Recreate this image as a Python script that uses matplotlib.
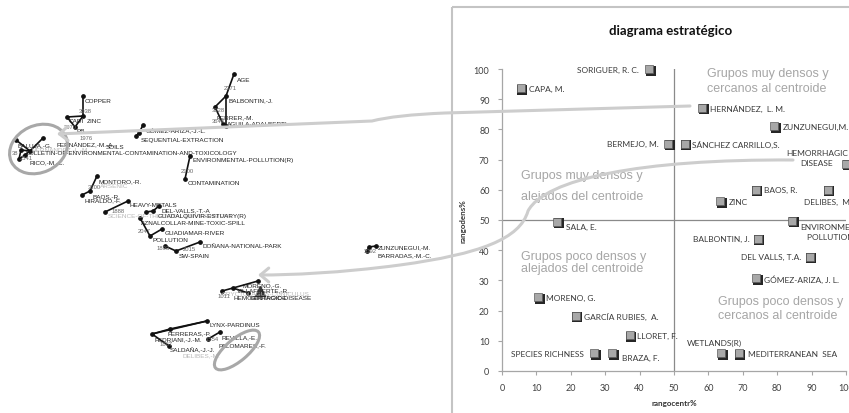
import matplotlib
matplotlib.use("Agg")
import matplotlib.pyplot as plt
import matplotlib.transforms as mtransforms
from matplotlib.patches import Ellipse, Rectangle, FancyArrowPatch
from matplotlib.path import Path
from matplotlib.collections import LineCollection

# ---------------- strategic diagram: themes (centrality %, density %) ----------------
themes = ["SORIGUER, R. C.", "CAPA, M.", "HERNÁNDEZ,  L. M.", "ZUNZUNEGUI,M.",
          "BERMEJO, M.", "SÁNCHEZ CARRILLO,S.", "HEMORRHAGIC\nDISEASE", "BAOS, R.",
          "DELIBES,  M.", "ZINC", "SALA, E.", "ENVIRONMENTAL\nPOLLUTION (R)",
          "BALBONTIN, J.", "DEL VALLS, T.A.", "GÓMEZ-ARIZA, J. L.", "MORENO, G.",
          "GARCÍA RUBIES,  A.", "LLORET, F.", "SPECIES RICHNESS", "BRAZA, F.",
          "WETLANDS(R)", "MEDITERRANEAN  SEA"]
centrality = [42.8, 5.4, 58.2, 79.2, 48.3, 53.1, 100.0, 73.7, 94.7, 63.5, 16.1, 84.3,
              74.4, 89.4, 73.9, 10.6, 21.5, 37.2, 26.8, 32.0, 63.8, 68.8]
density = [100.0, 93.6, 87.2, 81.1, 75.3, 75.3, 68.7, 60.0, 60.0, 56.2, 49.4, 49.7,
           43.8, 37.8, 30.7, 24.5, 18.3, 11.8, 5.9, 5.9, 5.9, 5.9]
axis_ticks = list(range(0, 101, 10))

# label placement around each marker: (dx px, dy px downwards, horizontal alignment)
label_place = [(-10, 0, "right"), (8, 0, "left"), (8, 0, "left"), (8, 0, "left"),
               (-9, 0, "right"), (7, 0, "left"), (-29, -6, "center"), (8, 0, "left"),
               (0, 12, "center"), (8, 0, "left"), (9, 5, "left"), (44, 11, "center"),
               (-8, 0, "right"), (-8, 0, "right"), (8, 0, "left"), (8, 0, "left"),
               (8, 0, "left"), (7, 0, "left"), (-10, 0, "right"), (10, 4, "left"),
               (-7, -11, "center"), (9, 0, "left")]

# ---------------- co-word network (layout positions in px) ----------------
node_x = [83, 83, 67, 75, 16, 43, 21, 30, 19, 25, 143, 139, 136, 190, 185,
          234, 226, 215, 223, 226, 97, 90, 82, 105, 128, 146, 153, 159, 140, 150,
          162, 165, 176, 200, 369, 376, 367, 222, 233, 258, 248, 152, 170, 207,
          169, 208, 220]
node_y = [97, 117, 118, 128, 141, 139, 151, 152, 160, 156, 126, 134, 137, 157, 180,
          75, 97, 108, 125, 127, 177, 192, 196, 213, 202, 213, 212, 207, 219, 237,
          230, 247, 252, 243, 248, 247, 252, 292, 289, 282, 294, 335, 330, 322,
          347, 340, 333]
edges = [(0, 1), (1, 2), (2, 3), (1, 3), (4, 7), (5, 7), (6, 7), (6, 8), (8, 9), (7, 9),
         (10, 11), (11, 12), (13, 14), (15, 16), (16, 17), (17, 18), (18, 19), (16, 19),
         (20, 21), (21, 22), (23, 24), (25, 26), (26, 27), (28, 29), (29, 30), (31, 32),
         (32, 33), (34, 35), (34, 36), (37, 38), (38, 39), (38, 40), (41, 42), (42, 43),
         (41, 43), (44, 41), (45, 46)]
word_labels = ["COPPER", "CADI", "ZINC", "PB", "BALUJA,-G.", "FERNÁNDEZ,-M.-A.", "SOILS",
               "BULLETIN-OF-ENVIRONMENTAL-CONTAMINATION-AND-TOXICOLOGY", "RICO,-M.-C.",
               "GÓMEZ-ARIZA,-J.-L.", "SEQUENTIAL-EXTRACTION", "ENVIRONMENTAL-POLLUTION(R)",
               "CONTAMINATION", "AGE", "BALBONTIN,-J.", "FERRER,-M.", "AGUILA-ADALBERTI",
               "MONTORO,-R.", "BAOS,-R.", "HIRALDO,-F.", "HEAVY-METALS", "DEL-VALLS,-T.-A",
               "GUADALQUIVIR-ESTUARY(R)", "AZNALCOLLAR-MINE-TOXIC-SPILL", "GUADIAMAR-RIVER",
               "POLLUTION", "DOÑANA-NATIONAL-PARK", "SW-SPAIN", "ZUNZUNEGUI,-M.",
               "BARRADAS,-M.-C.", "MORENO,-G.", "VILLAFUERTE,-R.", "HEMORRHAGIC-DISEASE",
               "CENTROIDE", "LYNX-PARDINUS", "FERRERAS,-P.", "FEDRIANI,-J.-M.",
               "REVILLA,-E.", "PALOMARES,-F.", "SALDAÑA,-J.-J."]
word_x = [85, 69, 87, 77, 18, 57, 106, 26, 30, 146, 141, 193, 188, 237, 229, 217, 227,
          99, 93, 85, 130, 162, 158, 141, 165, 153, 203, 179, 378, 378, 243, 237, 234,
          250, 210, 168, 155, 222, 219, 170]
word_y = [102, 122, 122, 132, 146, 144, 148, 154, 163, 131, 141, 161, 184, 80, 101, 118,
          125, 182, 197, 201, 206, 211, 217, 224, 234, 241, 247, 257, 248, 256, 286, 291,
          299, 299, 326, 334, 340, 338, 346, 351]
# words partly hidden under others
hidden_labels = ["SCIENCE-OF-THE-TOTAL-ENVIRONMENT", "ARSENIC", "ORYCTOLAGUS-CUNICULUS",
                 "DELIBES,-M.", "HERNÁNDEZ,-L.-M."]
hidden_x = [108, 100, 222, 183, 32]
hidden_y = [217, 187, 295, 356, 149]
# document counts shown beside nodes
counts = ["3038", "3070", "1976", "38", "2541", "2100", "2371", "3128", "3648", "3100",
          "1888", "2047", "1893", "2015", "3092", "1011", "1867", "1554"]
count_x = [79, 64, 80, 12, 20, 181, 224, 212, 212, 88, 112, 138, 157, 183, 364, 218, 160, 206]
count_y = [112, 128, 139, 154, 159, 172, 89, 111, 122, 188, 212, 232, 249, 250, 252, 297, 345, 340]
centroid_x, centroid_y = [260], [292]

W, H = 849, 414
fig = plt.figure(figsize=(W / 100, H / 100), dpi=100)
fig.patch.set_facecolor("white")

NET_FONT = ["Liberation Sans", "DejaVu Sans"]
CAL_FONT = ["Lato", "DejaVu Sans"]

# ---- network layer ----
ax_net = fig.add_axes([0, 0, 1, 1])
ax_net.set_xlim(0, W)
ax_net.set_ylim(H, 0)
ax_net.axis("off")

segs = [[(node_x[a], node_y[a]), (node_x[b], node_y[b])] for a, b in edges]
ax_net.add_collection(LineCollection(segs, colors="#111111", linewidths=1.2, zorder=2))
ax_net.plot(node_x, node_y, "o", ms=2.4, color="#111111", zorder=3)
ax_net.plot(centroid_x, centroid_y, "^", ms=7, color="#3a3a3a", zorder=3)
for t, x, y in zip(hidden_labels, hidden_x, hidden_y):
    ax_net.text(x, y, t, fontsize=4.6, family=NET_FONT, color="#b8b8b8", va="center", ha="left", zorder=3)
for t, x, y in zip(word_labels, word_x, word_y):
    ax_net.text(x, y, t, fontsize=4.6, family=NET_FONT, color="#222222", va="center", ha="left", zorder=4)
for t, x, y in zip(counts, count_x, count_y):
    ax_net.text(x, y, t, fontsize=4.2, family=NET_FONT, color="#666666", va="center", ha="left", zorder=4)

ax_net.add_patch(Ellipse((38.5, 150), 60, 47, angle=-25, fill=False, ec="#a8a8a8", lw=2.2, zorder=5))
ax_net.add_patch(Ellipse((237, 351), 56, 22, angle=-40, fill=False, ec="#a8a8a8", lw=2.2, zorder=5))

# quadrant captions
quad_lines = [("Grupos muy densos y", 707, 77), ("cercanos al centroide", 707, 91.5),
              ("Grupos muy densos y", 521, 179), ("alejados del centroide", 521, 200.5),
              ("Grupos poco densos y", 521, 260), ("alejados del centroide", 521, 272.5),
              ("Grupos poco densos y", 718, 305), ("cercanos al centroide", 718, 319)]
for t, x, y in quad_lines:
    ax_net.text(x, y, t, fontsize=9, family=NET_FONT, color="#a6a6a6", ha="left", va="baseline")

# ---- strategic diagram ----
ax = fig.add_axes([502 / W, (H - 372) / H, 344 / W, 302 / H])
ax.patch.set_visible(False)
ax.set_xlim(0, 100)
ax.set_ylim(0, 100)
for s in ("top", "right"):
    ax.spines[s].set_visible(False)
for s in ("left", "bottom"):
    ax.spines[s].set_color("#a6a6a6")
    ax.spines[s].set_linewidth(0.9)
ax.set_xticks(axis_ticks)
ax.set_yticks(axis_ticks)
ax.tick_params(length=3, color="#a6a6a6", labelsize=6.5, labelcolor="#404040", pad=6)
for lab in ax.get_xticklabels() + ax.get_yticklabels():
    lab.set_family(CAL_FONT)
ax.axvline(50, color="#8a8a8a", lw=0.9, zorder=1)
ax.axhline(50, color="#8a8a8a", lw=0.9, zorder=1)
ax.set_xlabel("rangocentr%", fontsize=5.8, fontweight="bold", family=CAL_FONT, color="#333333", labelpad=5)
ax.set_ylabel("rangodens%", fontsize=5.8, fontweight="bold", family=CAL_FONT, color="#333333", labelpad=5)

shadow = mtransforms.offset_copy(ax.transData, fig=fig, x=1.1, y=-1.1, units="points")
ax.scatter(centrality, density, marker="s", s=7.2 ** 2, c="#262626", linewidths=0,
           transform=shadow, clip_on=False, zorder=3)
ax.scatter(centrality, density, marker="s", s=6.3 ** 2, c="#a8a8a8", edgecolors="#5c5c5c",
           linewidths=0.5, clip_on=False, zorder=4)
for name, cx, dy_, (dx, dyp, ha) in zip(themes, centrality, density, label_place):
    ax.annotate(name, (cx, dy_), xytext=(dx * 0.72, -dyp * 0.72), textcoords="offset points",
                ha=ha, va="center", fontsize=6, family=CAL_FONT, color="#3a3a3a",
                multialignment="center", linespacing=1.45, annotation_clip=False, zorder=5)

# ---- top layer: frame, title, linking arrows ----
ax_top = fig.add_axes([0, 0, 1, 1], zorder=5)
ax_top.set_xlim(0, W)
ax_top.set_ylim(H, 0)
ax_top.axis("off")
ax_top.patch.set_visible(False)

ax_top.add_patch(Rectangle((452, 8), 440, 430, fill=False, ec="#c4c4c4", lw=1.5, clip_on=False))
ax_top.text(671, 31, "diagrama estratégico", ha="center", va="center", fontsize=9.5,
            fontweight="bold", family=CAL_FONT, color="#111111")

arrow_kw = dict(arrowstyle="->,head_length=0.6,head_width=0.5", mutation_scale=10,
                color="#cdcdcd", lw=2.2)
path1 = Path([(690, 107), (445, 114), (395, 116), (372, 122), (57, 135)],
             [Path.MOVETO, Path.LINETO, Path.CURVE3, Path.CURVE3, Path.LINETO])
ax_top.add_patch(FancyArrowPatch(path=path1, **arrow_kw))
path2 = Path([(793, 161), (640, 160), (545, 180), (528, 212),
              (520, 240), (480, 255), (400, 266),
              (340, 274), (290, 276), (258, 276)],
             [Path.MOVETO, Path.CURVE4, Path.CURVE4, Path.CURVE4,
              Path.CURVE4, Path.CURVE4, Path.CURVE4,
              Path.CURVE4, Path.CURVE4, Path.CURVE4])
ax_top.add_patch(FancyArrowPatch(path=path2, **arrow_kw))

fig.savefig("out.png", dpi=100, facecolor="white")
